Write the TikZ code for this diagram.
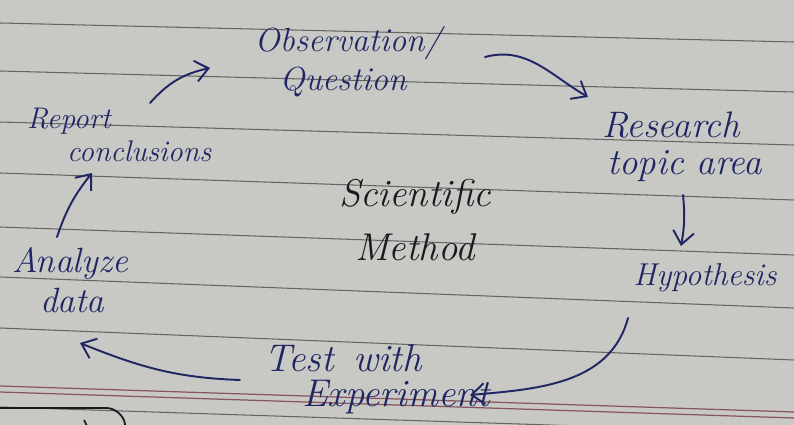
\documentclass[tikz,border=0pt]{standalone}
\usetikzlibrary{arrows.meta}
\definecolor{paper}{RGB}{200,201,196}
\definecolor{rulegray}{RGB}{100,100,100}
\definecolor{redrule}{RGB}{135,85,95}
\definecolor{ink}{RGB}{32,38,100}
\definecolor{blackink}{RGB}{25,25,30}
\begin{document}
\begin{tikzpicture}[x=0.02cm,y=-0.02cm,
  hand/.style={font=\itshape\fontsize{19}{21}\selectfont, text=ink, inner sep=1pt},
  ruling/.style={draw=rulegray, line width=0.6pt},
  redruling/.style={draw=redrule, line width=0.7pt},
  inkarrow/.style={draw=ink, line width=1.1pt, line cap=round,
    -{Straight Barb[length=2.6mm,width=4.2mm,line width=1.1pt]}}]
\useasboundingbox (0,0) rectangle (794,425);
\begin{scope}
\clip (0,0) rectangle (794,425);
\fill[paper] (0,0) rectangle (794,425);
% ruled lines
\foreach \a/\b in {23/42,71/92,122/145,173/200,227/255,277/308,328/360,407/433}
  \draw[ruling] (0,\a) -- (794,\b);
\draw[redruling] (0,386) -- (794,412);
\draw[redruling] (0,392) -- (794,418);
% bottom-left box
\draw[draw=blackink, line width=1pt, rounded corners=9] (-5,408) -- (122,408) -- (128,440);
\draw[draw=blackink, line width=1pt] (84,420) -- (88,428);
\end{scope}

% texts
\node[hand, align=center] (obs) at (348,62) {Observation/\\[1pt]\hspace*{-0.2cm}Question};
\node[hand, align=left, anchor=west, font=\itshape\fontsize{17}{21}\selectfont] (rep) at (25,135)
  {Report\\[-2pt]\hspace*{0.8cm}conclusions};
\node[hand, align=left, anchor=west, font=\itshape\fontsize{21}{23}\selectfont] (res) at (600,147)
  {Research\\[-2pt]\hspace*{0.1cm}topic area};
\node[hand, font=\itshape\fontsize{18}{21}\selectfont] (hyp) at (705,278) {Hypothesis};
\node[hand, align=left, anchor=west, font=\itshape\fontsize{22}{23}\selectfont] (test) at (262,379)
  {Test\hspace{0.5em}with\\[-3pt]\hspace*{0.76cm}Experiment};
\node[hand, align=left, anchor=west, font=\itshape\fontsize{20}{22}\selectfont] (ana) at (10,280)
  {Analyze\\[1pt]\hspace*{0.56cm}data};
\node[hand, align=center, text=blackink, font=\itshape\fontsize{22}{25}\selectfont] (sm) at (415,220)
  {Scientific\\[6pt]Method};

% arrow end points
\coordinate (a1s) at (150,103); \coordinate (a1e) at (210,68);
\coordinate (a2s) at (485,57);  \coordinate (a2e) at (588,97);
\coordinate (a3s) at (683,195); \coordinate (a3e) at (681,246);
\coordinate (a4s) at (628,318); \coordinate (a4e) at (470,395);
\coordinate (a5s) at (240,380); \coordinate (a5e) at (80,343);
\coordinate (a6s) at (57,237);  \coordinate (a6e) at (92,173);

\draw[inkarrow] (a1s) to[bend left=18] (a1e);
\draw[inkarrow] (a2s) to[out=15,in=150] (a2e);
\draw[inkarrow] (a3s) to[bend left=8] (a3e);
\draw[inkarrow] (a4s) to[out=-105,in=5] (a4e);
\draw[inkarrow] (a5s) to[out=178,in=-22] (a5e);
\draw[inkarrow] (a6s) to[bend left=10] (a6e);
\end{tikzpicture}
\end{document}
